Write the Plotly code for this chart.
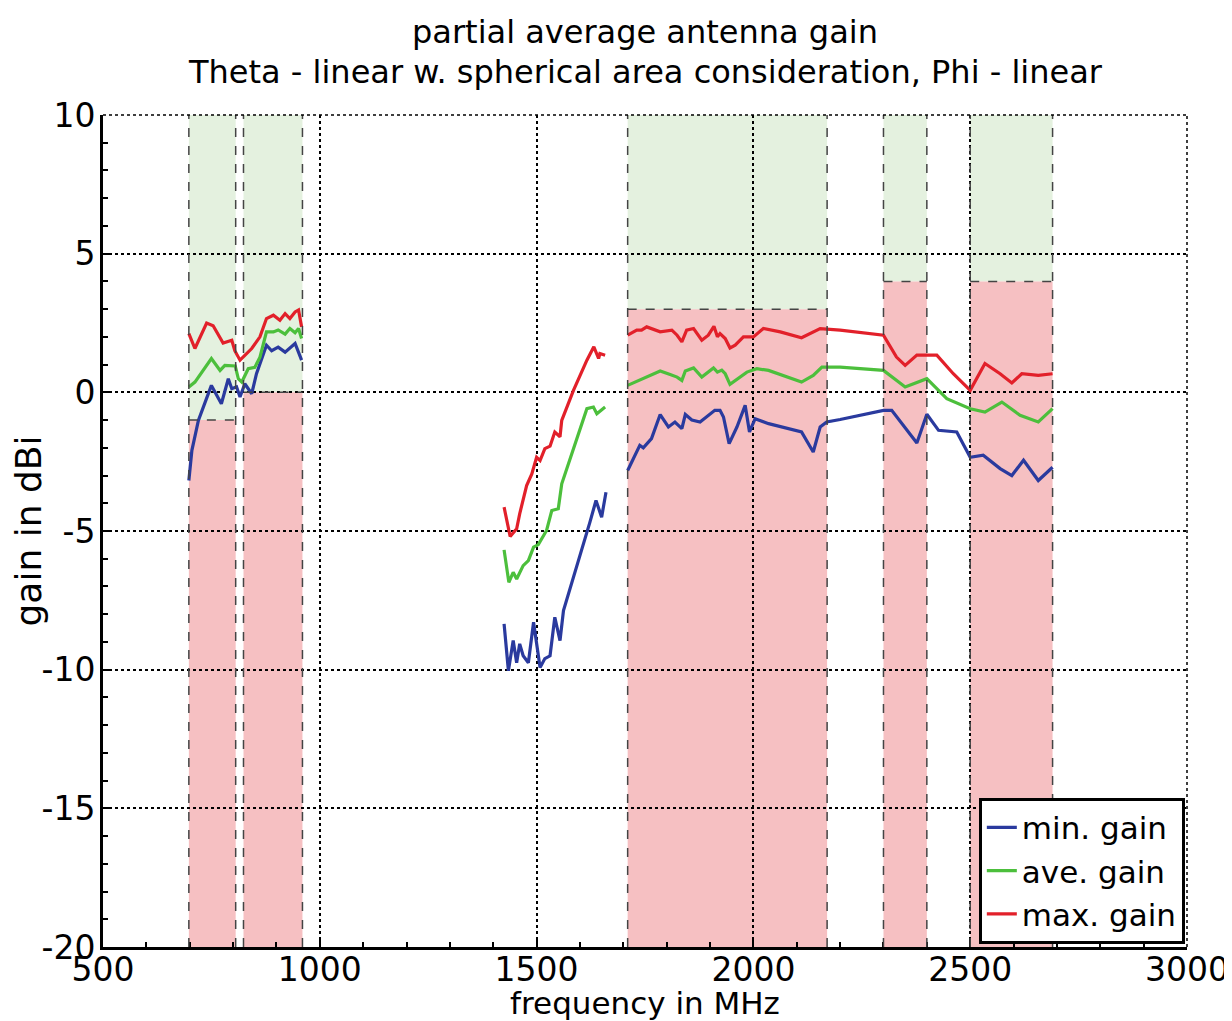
import plotly.graph_objects as go

# ---- frequency bands with required gain (dBi) ----
band_lo = [698, 824, 1710, 2300, 2500]
band_hi = [806, 960, 2170, 2400, 2690]
band_req = [-1, 0, 3, 4, 4]

# ---- measured curves (MHz, dBi) ----
red_left_f = [698, 712, 739, 754, 777, 797, 804, 816, 843, 862, 877, 893, 908, 920, 931, 943, 951, 958]
red_left_g = [2.12, 1.58, 2.5, 2.4, 1.78, 1.88, 1.5, 1.16, 1.58, 2.0, 2.66, 2.78, 2.6, 2.84, 2.66, 2.9, 2.97, 2.36]
green_left_f = [698, 712, 750, 770, 781, 797, 805, 812, 820, 835, 850, 862, 877, 893, 904, 920, 931, 943, 951, 958]
green_left_g = [0.19, 0.37, 1.22, 0.79, 0.97, 0.97, 0.95, 0.49, 0.37, 0.85, 0.9, 1.27, 2.18, 2.18, 2.25, 2.1, 2.3, 2.15, 2.3, 1.94]
blue_left_f = [698, 705, 720, 750, 773, 789, 797, 808, 816, 827, 843, 854, 877, 889, 904, 920, 943, 958]
blue_left_g = [-3.18, -2.09, -1.01, 0.25, -0.41, 0.49, 0.13, 0.2, -0.17, 0.31, -0.05, 0.67, 1.7, 1.5, 1.63, 1.45, 1.76, 1.16]

red_mid_f = [1425, 1439, 1454, 1461, 1477, 1489, 1500, 1508, 1519, 1531, 1542, 1554, 1558, 1585, 1616, 1632, 1643, 1646, 1658]
red_mid_g = [-4.14, -5.2, -4.92, -4.38, -3.36, -2.94, -2.34, -2.46, -2.03, -1.94, -1.43, -1.6, -1.01, 0.07, 1.16, 1.64, 1.22, 1.4, 1.34]
green_mid_f = [1425, 1436, 1446, 1454, 1469, 1481, 1493, 1504, 1523, 1535, 1550, 1558, 1616, 1631, 1639, 1658]
green_mid_g = [-5.68, -6.85, -6.49, -6.73, -6.25, -6.07, -5.58, -5.49, -4.98, -4.26, -4.2, -3.3, -0.59, -0.53, -0.77, -0.53]
blue_mid_f = [1425, 1435, 1446, 1454, 1461, 1469, 1481, 1493, 1508, 1519, 1531, 1542, 1554, 1562, 1623, 1637, 1650, 1660]
blue_mid_g = [-8.35, -10.04, -8.95, -9.75, -9.07, -9.5, -9.75, -8.29, -9.92, -9.6, -9.5, -8.11, -8.95, -7.87, -4.68, -3.9, -4.5, -3.6]

red_right_f = [1710, 1731, 1742, 1754, 1785, 1812, 1824, 1835, 1846, 1862, 1881, 1896, 1909, 1917, 1923, 1935, 1946, 1958, 1977, 2000, 2023, 2062, 2111, 2154, 2200, 2300, 2330, 2350, 2377, 2400, 2423, 2461, 2500, 2534, 2569, 2596, 2619, 2657, 2690]
red_right_g = [2.06, 2.24, 2.24, 2.36, 2.18, 2.24, 2.06, 1.82, 2.24, 2.3, 1.88, 2.06, 2.38, 2.0, 2.12, 1.94, 1.6, 1.7, 2.0, 2.0, 2.3, 2.18, 1.97, 2.3, 2.24, 2.06, 1.27, 0.97, 1.34, 1.34, 1.34, 0.67, 0.07, 1.04, 0.67, 0.34, 0.67, 0.61, 0.67]
green_right_f = [1710, 1727, 1754, 1785, 1808, 1824, 1835, 1843, 1862, 1881, 1908, 1917, 1927, 1935, 1946, 1962, 1985, 2008, 2035, 2111, 2138, 2158, 2200, 2300, 2350, 2400, 2446, 2500, 2534, 2573, 2615, 2657, 2690]
green_right_g = [0.25, 0.37, 0.55, 0.77, 0.64, 0.55, 0.43, 0.77, 0.88, 0.55, 0.88, 0.73, 0.8, 0.67, 0.29, 0.46, 0.73, 0.85, 0.79, 0.37, 0.61, 0.91, 0.91, 0.79, 0.19, 0.49, -0.23, -0.59, -0.71, -0.35, -0.83, -1.07, -0.59]
blue_right_f = [1710, 1738, 1746, 1765, 1785, 1804, 1819, 1835, 1843, 1858, 1877, 1911, 1923, 1931, 1944, 1962, 1981, 1991, 2004, 2035, 2111, 2138, 2154, 2169, 2200, 2300, 2319, 2377, 2400, 2427, 2469, 2500, 2530, 2569, 2596, 2623, 2657, 2690]
blue_right_g = [-2.82, -1.91, -2.0, -1.67, -0.8, -1.25, -1.07, -1.31, -0.8, -1.0, -1.07, -0.65, -0.65, -0.89, -1.85, -1.25, -0.47, -1.43, -0.95, -1.13, -1.43, -2.15, -1.25, -1.07, -0.98, -0.65, -0.65, -1.83, -0.79, -1.37, -1.43, -2.34, -2.27, -2.75, -3.0, -2.45, -3.18, -2.7]

series_names = ["min. gain", "ave. gain", "max. gain"]
series_colors = ["#2a3a9e", "#4cbf3c", "#e2202a"]

x_tickvals = [500, 1000, 1500, 2000, 2500, 3000]
x_ticktext = ["500", "1000", "1500", "2000", "2500", "3000"]
y_tickvals = [-20, -15, -10, -5, 0, 5, 10]
y_ticktext = ["-20", "-15", "-10", "-5", "0", "5", "10"]

title_lines = ["partial average antenna gain",
               "Theta - linear w. spherical area consideration, Phi - linear"]

X_MIN, X_MAX = 500, 3000
Y_MIN, Y_MAX = -20, 10
FONT = "DejaVu Sans, Arial, sans-serif"


def join(*segs):
    xs, ys = [], []
    for i, (f, g) in enumerate(segs):
        if i:
            xs.append(None)
            ys.append(None)
        xs += f
        ys += g
    return xs, ys


curves = [
    join((blue_left_f, blue_left_g), (blue_mid_f, blue_mid_g), (blue_right_f, blue_right_g)),
    join((green_left_f, green_left_g), (green_mid_f, green_mid_g), (green_right_f, green_right_g)),
    join((red_left_f, red_left_g), (red_mid_f, red_mid_g), (red_right_f, red_right_g)),
]

fig = go.Figure()
for (xs, ys), name, col in zip(curves, series_names, series_colors):
    fig.add_trace(go.Scatter(x=xs, y=ys, mode="lines", name=name,
                             line=dict(color=col, width=3.2), connectgaps=False))

shapes = []
dash_line = dict(color="#444444", width=1.5, dash="dash")
for lo, hi, req in zip(band_lo, band_hi, band_req):
    shapes.append(dict(type="rect", xref="x", yref="y", x0=lo, x1=hi, y0=req, y1=Y_MAX,
                       fillcolor="#e4f1df", line=dict(width=0), layer="below"))
    shapes.append(dict(type="rect", xref="x", yref="y", x0=lo, x1=hi, y0=Y_MIN, y1=req,
                       fillcolor="#f6c0c2", line=dict(width=0), layer="below"))
    for xv in (lo, hi):
        shapes.append(dict(type="line", xref="x", yref="y", x0=xv, x1=xv, y0=Y_MIN, y1=Y_MAX,
                           line=dash_line, layer="above"))
    shapes.append(dict(type="line", xref="x", yref="y", x0=lo, x1=hi, y0=req, y1=req,
                       line=dash_line, layer="above"))

# dotted grid lines on the top and right frame edges
edge_dot = dict(color="black", width=1.5, dash="dot")
shapes.append(dict(type="line", xref="paper", yref="paper", x0=0, x1=1, y0=1, y1=1,
                   line=edge_dot, layer="above"))
shapes.append(dict(type="line", xref="paper", yref="paper", x0=1, x1=1, y0=0, y1=1,
                   line=edge_dot, layer="above"))

axis_common = dict(
    showline=True, linecolor="black", linewidth=3,
    ticks="inside", ticklen=9, tickwidth=2, tickcolor="black",
    showgrid=True, gridcolor="black", griddash="dot", gridwidth=1.5,
    zeroline=False, automargin=False,
    tickfont=dict(family=FONT, size=33, color="black"),
)

annotations = [
    dict(text=title_lines[0], xref="paper", yref="paper", x=0.5, y=1.0998,
         xanchor="center", yanchor="middle", showarrow=False,
         font=dict(family=FONT, size=32, color="black")),
    dict(text=title_lines[1], xref="paper", yref="paper", x=0.5, y=1.0517,
         xanchor="center", yanchor="middle", showarrow=False,
         font=dict(family=FONT, size=32, color="black")),
]

fig.update_layout(
    width=1224, height=1013,
    margin=dict(l=95, r=45, t=107, b=74, autoexpand=False),
    paper_bgcolor="white", plot_bgcolor="white",
    font=dict(family=FONT, color="black"),
    xaxis=dict(range=[X_MIN, X_MAX], tickmode="array", tickvals=x_tickvals, ticktext=x_ticktext,
               ticklabelstandoff=-9,
               minor=dict(dtick=100, tick0=500, ticks="inside", ticklen=5, tickcolor="black", showgrid=False),
               title=dict(text="frequency in MHz", font=dict(family=FONT, size=31), standoff=0),
               **axis_common),
    yaxis=dict(range=[Y_MIN, Y_MAX], tickmode="array", tickvals=y_tickvals, ticktext=y_ticktext,
               ticklabelstandoff=-2,
               minor=dict(dtick=1, tick0=0, ticks="inside", ticklen=5, tickcolor="black", showgrid=False),
               title=dict(text="gain in dBi", font=dict(family=FONT, size=36), standoff=6),
               **axis_common),
    shapes=shapes,
    annotations=annotations,
    legend=dict(x=0.998, y=0.004, xanchor="right", yanchor="bottom",
                bgcolor="white", bordercolor="black", borderwidth=3,
                font=dict(family=FONT, size=31, color="black"),
                tracegroupgap=0, itemwidth=30),
    showlegend=True,
)

fig.write_html("out.html")
